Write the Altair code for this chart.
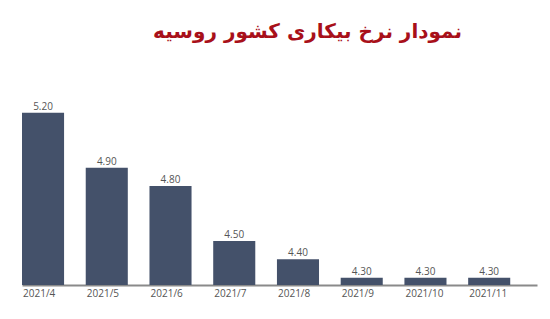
import altair as alt
import pandas as pd

months = ["2021/4", "2021/5", "2021/6", "2021/7", "2021/8", "2021/9", "2021/10", "2021/11"]
rates = [5.20, 4.90, 4.80, 4.50, 4.40, 4.30, 4.30, 4.30]
title_text = "نمودار نرخ بیکاری کشور روسیه"

df = pd.DataFrame({"month": months, "rate": rates})
df["label"] = df["rate"].map(lambda v: f"{v:.2f}")

x = alt.X("month:N", sort=months,
          scale=alt.Scale(paddingInner=0.34, paddingOuter=0.21, align=0),
          axis=alt.Axis(title=None, labelAngle=0, ticks=False, domainColor="#8a8a8a",
                        domainWidth=2, labelColor="#555555", labelFont="Open Sans",
                        labelFontSize=10, labelPadding=3, labelAlign="left",
                        labelOffset=-20, labelFlush=False, grid=False))
y = alt.Y("rate:Q", scale=alt.Scale(domain=[4.26, 5.27], zero=False, clamp=True, nice=False),
          axis=None)

bars = alt.Chart(df).mark_bar(color="#44516a").encode(x=x, y=y, y2=alt.datum(4.26))
text = alt.Chart(df).mark_text(dy=-6, fontSize=10, color="#555555", font="Open Sans").encode(
    x=alt.X("month:N", sort=months), y="rate:Q", text="label:N")

chart = alt.layer(bars, text).properties(
    width=515, height=185,
    title=alt.TitleParams(title_text, fontSize=20, font="DejaVu Sans", fontWeight="bold",
                          color="#a8101a", anchor="middle", offset=58, dx=28),
    autosize=alt.AutoSizeParams(type="none"),
    padding={"left": 22, "top": 100, "right": 13, "bottom": 34},
).configure(background="white").configure_view(strokeWidth=0, stroke=None)

chart.save("out.html", embed_options={"renderer": "svg", "actions": False})
